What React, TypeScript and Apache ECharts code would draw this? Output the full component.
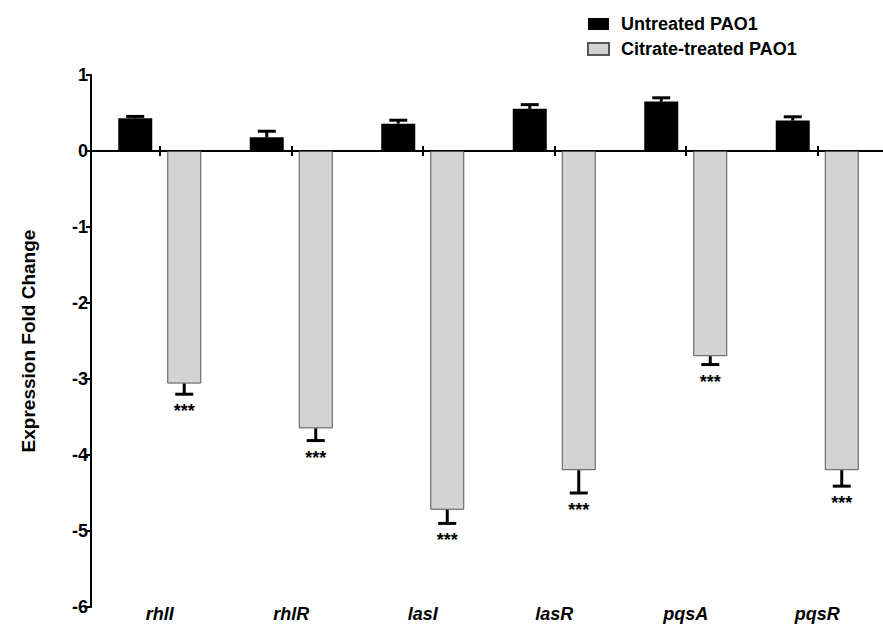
import React, { useEffect, useRef } from "react";
import * as echarts from "echarts";

const categories = ["rhlI", "rhlR", "lasI", "lasR", "pqsA", "pqsR"];
const seriesNames = ["Untreated PAO1", "Citrate-treated PAO1"];
const untreated = [0.43, 0.18, 0.36, 0.555, 0.65, 0.4];
const untreatedErr = [0.025, 0.08, 0.045, 0.055, 0.05, 0.05];
const citrate = [-3.06, -3.65, -4.72, -4.2, -2.7, -4.2];
const citrateErr = [0.14, 0.16, 0.18, 0.3, 0.11, 0.21];
const citrateStars = ["***", "***", "***", "***", "***", "***"];
const yMin = -6;
const yMax = 1;
const yInterval = 1;

const FONT = "'Liberation Sans', Arial, Helvetica, sans-serif";
const BAR_W = 34;
const BAR_GAP_PX = 15;
const HALF_OFF = (BAR_W + BAR_GAP_PX) / 2;

function makeErrorSeries(values: number[], errs: number[], dir: number, stars: string[] | null) {
  return {
    type: "custom",
    xAxisIndex: 0,
    yAxisIndex: 0,
    z: 5,
    silent: true,
    data: values.map((v, i) => [i, v, errs[i]]),
    renderItem: (params: any, api: any) => {
      const idx = api.value(0);
      const v = api.value(1);
      const e = api.value(2);
      const base = api.coord([idx, v]);
      const end = api.coord([idx, v + dir * e]);
      const x = base[0] + (dir > 0 ? -HALF_OFF : HALF_OFF);
      const children: any[] = [
        {
          type: "line",
          shape: { x1: x, y1: base[1], x2: x, y2: end[1] },
          style: { stroke: "#000", lineWidth: 3 },
        },
        {
          type: "line",
          shape: { x1: x - 9, y1: end[1], x2: x + 9, y2: end[1] },
          style: { stroke: "#000", lineWidth: 3 },
        },
      ];
      if (stars) {
        children.push({
          type: "text",
          x: x,
          y: end[1] + 8,
          style: {
            text: stars[params.dataIndex],
            fill: "#000",
            font: `bold 18px ${FONT}`,
            align: "center",
            verticalAlign: "top",
          },
        });
      }
      return { type: "group", children };
    },
  };
}

export default function App() {
  const ref = useRef<HTMLDivElement>(null);
  useEffect(() => {
    document.body.style.margin = "0";
    if (!ref.current) return;
    const chart = echarts.init(ref.current, null, { renderer: "svg" });
    const option: any = {
      animation: false,
      backgroundColor: "#fff",
      textStyle: { fontFamily: FONT },
      legend: {
        orient: "vertical",
        left: 582,
        top: 10,
        itemWidth: 21,
        itemHeight: 12,
        itemGap: 7,
        icon: "rect",
        data: seriesNames,
        textStyle: {
          fontFamily: FONT,
          fontWeight: "bold",
          fontSize: 18,
          color: "#000",
          padding: [0, 0, 0, 7],
        },
      },
      grid: { left: 94, top: 75, width: 795, bottom: 19, containLabel: false },
      xAxis: [
        {
          type: "category",
          data: categories,
          position: "bottom",
          axisLine: { onZero: true, onZeroAxisIndex: 0, lineStyle: { color: "#000", width: 2 } },
          axisTick: { show: true, alignWithLabel: true, length: 5, lineStyle: { color: "#000", width: 2 } },
          axisLabel: { show: false },
          splitLine: { show: false },
        },
        {
          type: "category",
          data: categories,
          position: "top",
          axisLine: { onZero: true, onZeroAxisIndex: 0, lineStyle: { color: "#000", width: 2 } },
          axisTick: { show: true, alignWithLabel: true, length: 5, lineStyle: { color: "#000", width: 2 } },
          axisLabel: { show: false },
          splitLine: { show: false },
        },
        {
          type: "category",
          data: categories,
          position: "bottom",
          axisLine: { show: false, onZero: false },
          axisTick: { show: false },
          axisLabel: {
            show: true,
            margin: -2,
            fontFamily: FONT,
            fontWeight: "bold",
            fontStyle: "italic",
            fontSize: 18,
            color: "#000",
          },
          splitLine: { show: false },
        },
      ],
      yAxis: {
        type: "value",
        min: yMin,
        max: yMax,
        interval: yInterval,
        offset: 3,
        name: "Expression Fold Change",
        nameLocation: "middle",
        nameGap: 53,
        nameTextStyle: { fontFamily: FONT, fontWeight: "bold", fontSize: 19, color: "#000" },
        axisLine: { show: true, lineStyle: { color: "#000", width: 2 } },
        axisTick: { show: true, length: 5, lineStyle: { color: "#000", width: 2 } },
        axisLabel: { margin: 3, fontFamily: FONT, fontWeight: "bold", fontSize: 18, color: "#000" },
        splitLine: { show: false },
      },
      series: [
        {
          name: seriesNames[0],
          type: "bar",
          xAxisIndex: 0,
          data: untreated,
          barWidth: BAR_W,
          barGap: `${(BAR_GAP_PX / BAR_W) * 100}%`,
          itemStyle: { color: "#000" },
          z: 2,
        },
        {
          name: seriesNames[1],
          type: "bar",
          xAxisIndex: 0,
          data: citrate,
          barWidth: BAR_W,
          barGap: `${(BAR_GAP_PX / BAR_W) * 100}%`,
          itemStyle: { color: "#d3d3d3", borderColor: "#555", borderWidth: 1 },
          z: 2,
        },
        makeErrorSeries(untreated, untreatedErr, 1, null),
        makeErrorSeries(citrate, citrateErr, -1, citrateStars),
      ],
    };
    chart.setOption(option);
    const zeroY = chart.convertToPixel({ yAxisIndex: 0 }, 0) as number;
    chart.setOption({
      graphic: [
        {
          type: "line",
          shape: { x1: 90, y1: zeroY, x2: 96, y2: zeroY },
          style: { stroke: "#000", lineWidth: 2 },
          z: 10,
        },
      ],
    });
    return () => chart.dispose();
  }, []);
  return <div ref={ref} style={{ width: 883, height: 626 }} />;
}
